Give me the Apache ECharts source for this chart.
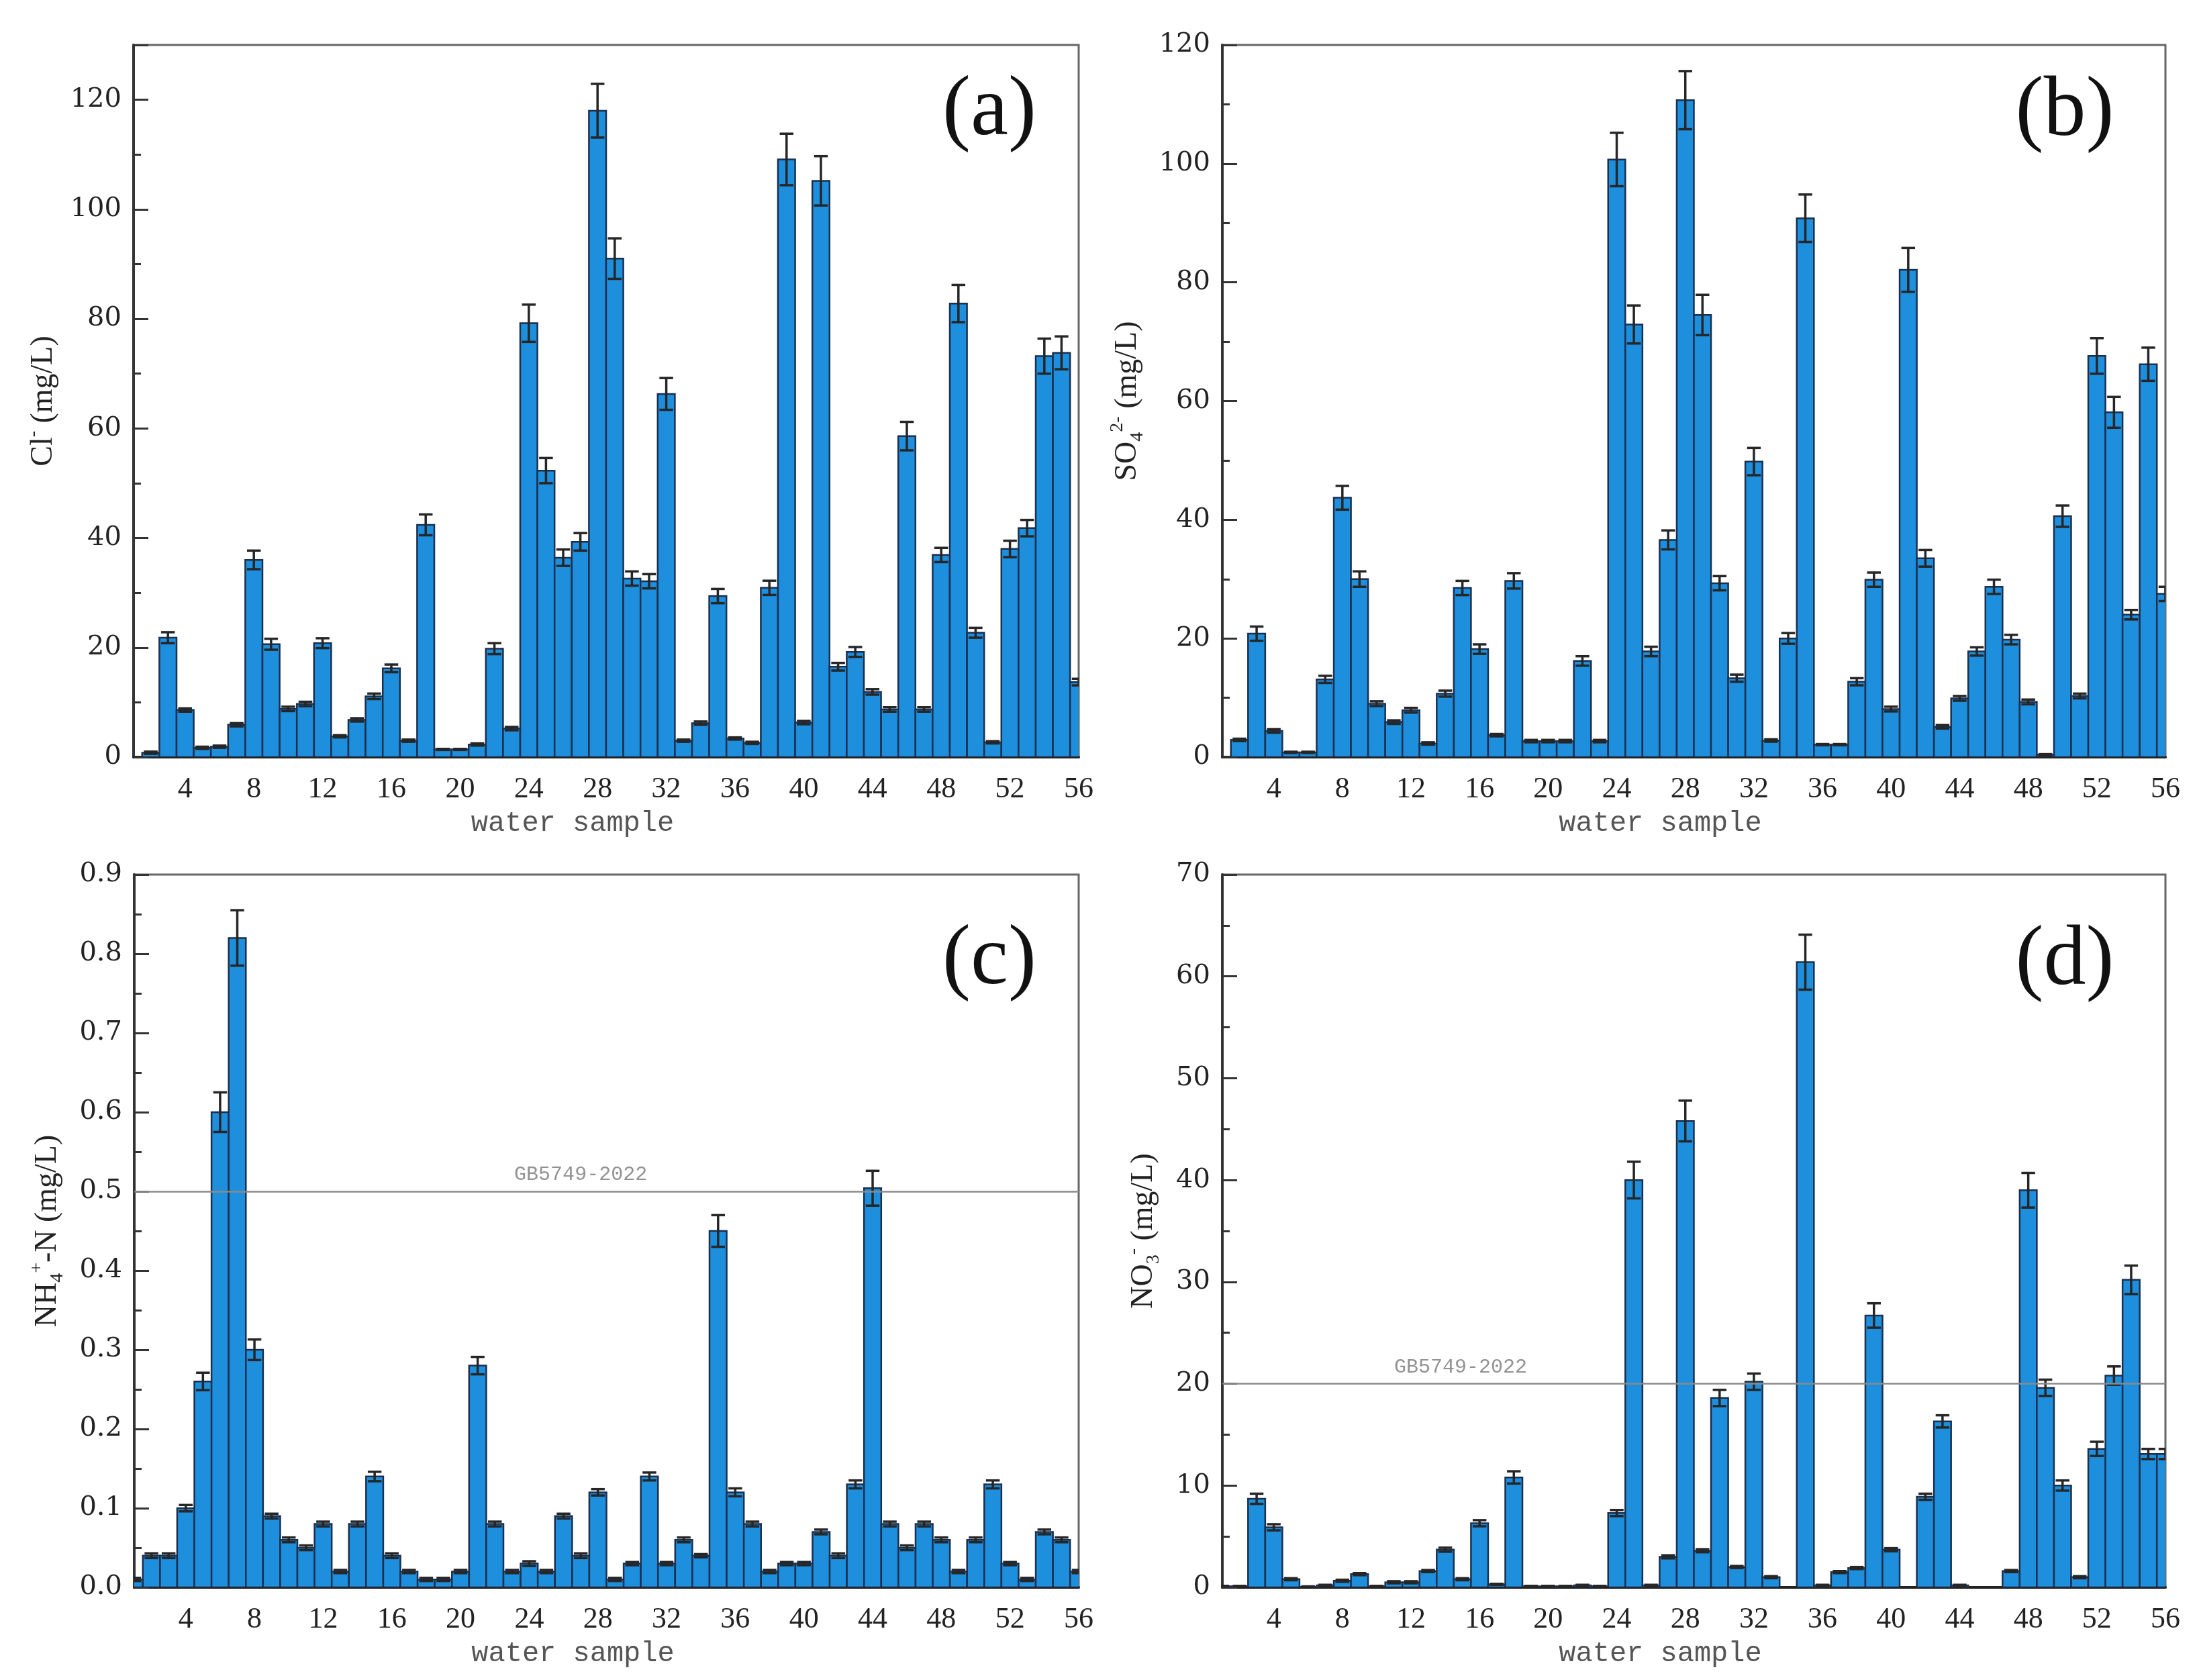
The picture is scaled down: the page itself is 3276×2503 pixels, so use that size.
<!DOCTYPE html>
<html>
<head>
<meta charset="utf-8">
<script src="https://cdn.jsdelivr.net/npm/echarts@6/dist/echarts.min.js"></script>
<style>
html, body { margin: 0; padding: 0; background: #fff; }
#main { width: 3276px; height: 2503px; }
</style>
</head>
<body>
<div id="main"></div>
<script>
// sample numbers 1..56
var samples = [];
for (var i = 1; i <= 56; i++) samples.push(i);

var xTicks = [4, 8, 12, 16, 20, 24, 28, 32, 36, 40, 44, 48, 52, 56];

// (a) Cl- mg/L
var clMean = [0, 0.8, 21.8, 8.6, 1.7, 1.9, 5.9, 36.0, 20.6, 8.8,
    9.7, 20.8, 3.8, 6.8, 11.1, 16.2, 3.0, 42.4, 1.4, 1.4,
    2.3, 19.8, 5.2, 79.2, 52.3, 36.4, 39.3, 118.0, 91.0, 32.6,
    32.1, 66.3, 3.0, 6.2, 29.4, 3.4, 2.6, 30.9, 109.1, 6.3,
    105.2, 16.5, 19.2, 11.9, 8.7, 58.6, 8.7, 36.9, 82.8, 22.7,
    2.7, 38.0, 41.8, 73.2, 73.8, 13.7];
var clErr = [0, 0.2, 1.0, 0.3, 0.2, 0.2, 0.3, 1.7, 1.0, 0.4,
    0.4, 0.9, 0.2, 0.3, 0.5, 0.7, 0.2, 1.9, 0.1, 0.1,
    0.2, 1.0, 0.3, 3.4, 2.3, 1.5, 1.6, 4.9, 3.7, 1.3,
    1.3, 2.9, 0.2, 0.3, 1.3, 0.2, 0.2, 1.3, 4.7, 0.3,
    4.5, 0.7, 0.9, 0.5, 0.4, 2.6, 0.4, 1.3, 3.4, 0.9,
    0.2, 1.5, 1.5, 3.2, 3.0, 0.6];

// (b) SO4 2- mg/L
var so4Mean = [0, 2.9, 20.8, 4.4, 0.8, 0.8, 13.1, 43.7, 30.0, 9.0,
    5.9, 7.9, 2.3, 10.7, 28.5, 18.2, 3.7, 29.7, 2.7, 2.7,
    2.7, 16.2, 2.7, 100.7, 72.9, 17.8, 36.6, 110.7, 74.5, 29.3,
    13.3, 49.8, 2.8, 20.0, 90.8, 2.1, 2.1, 12.7, 29.9, 8.1,
    82.1, 33.5, 5.1, 9.9, 17.8, 28.7, 19.8, 9.3, 0.4, 40.6,
    10.3, 67.6, 58.1, 24.0, 66.2, 27.5];
var so4Err = [0, 0.2, 1.2, 0.3, 0.1, 0.1, 0.6, 2.0, 1.3, 0.4,
    0.3, 0.4, 0.2, 0.5, 1.2, 0.8, 0.2, 1.3, 0.2, 0.2,
    0.2, 0.8, 0.2, 4.5, 3.2, 0.8, 1.6, 4.9, 3.4, 1.2,
    0.6, 2.3, 0.2, 0.9, 4.0, 0.1, 0.1, 0.6, 1.2, 0.4,
    3.7, 1.4, 0.3, 0.4, 0.7, 1.2, 0.8, 0.4, 0.1, 1.8,
    0.4, 3.0, 2.6, 0.8, 2.8, 1.2];

// (c) NH4+-N mg/L
var nh4Mean = [0.01, 0.04, 0.04, 0.10, 0.26, 0.60, 0.82, 0.30, 0.09, 0.06,
    0.05, 0.08, 0.02, 0.08, 0.14, 0.04, 0.02, 0.01, 0.01, 0.02,
    0.28, 0.08, 0.02, 0.03, 0.02, 0.09, 0.04, 0.12, 0.01, 0.03,
    0.14, 0.03, 0.06, 0.04, 0.45, 0.12, 0.08, 0.02, 0.03, 0.03,
    0.07, 0.04, 0.13, 0.504, 0.08, 0.05, 0.08, 0.06, 0.02, 0.06,
    0.13, 0.03, 0.01, 0.07, 0.06, 0.02];
var nh4Err = [0.002, 0.003, 0.003, 0.004, 0.011, 0.025, 0.035, 0.013, 0.003, 0.003,
    0.003, 0.003, 0.002, 0.003, 0.006, 0.003, 0.002, 0.002, 0.002, 0.002,
    0.011, 0.003, 0.002, 0.003, 0.002, 0.003, 0.003, 0.004, 0.002, 0.002,
    0.005, 0.002, 0.003, 0.002, 0.020, 0.005, 0.003, 0.002, 0.002, 0.002,
    0.003, 0.003, 0.005, 0.022, 0.003, 0.003, 0.003, 0.003, 0.002, 0.003,
    0.005, 0.002, 0.002, 0.003, 0.003, 0.002];

// (d) NO3- mg/L
var no3Mean = [0.1, 0.1, 8.7, 5.9, 0.8, 0.05, 0.2, 0.65, 1.3, 0.1,
    0.5, 0.5, 1.6, 3.7, 0.8, 6.3, 0.3, 10.8, 0.1, 0.1,
    0.1, 0.2, 0.1, 7.3, 40.0, 0.2, 3.0, 45.8, 3.6, 18.6,
    2.0, 20.2, 1.0, 0, 61.4, 0.2, 1.5, 1.9, 26.7, 3.7,
    0, 8.9, 16.3, 0.2, 0, 0, 1.6, 39.0, 19.6, 10.0,
    1.0, 13.6, 20.8, 30.2, 13.1, 13.1];
var no3Err = [0.05, 0.05, 0.5, 0.3, 0.1, 0.05, 0.05, 0.1, 0.1, 0.05,
    0.1, 0.1, 0.1, 0.2, 0.1, 0.3, 0.05, 0.6, 0.05, 0.05,
    0.05, 0.05, 0.05, 0.3, 1.8, 0.05, 0.15, 2.0, 0.15, 0.8,
    0.1, 0.8, 0.1, 0, 2.7, 0.05, 0.1, 0.1, 1.2, 0.15,
    0, 0.3, 0.6, 0.05, 0, 0, 0.1, 1.7, 0.8, 0.5,
    0.1, 0.7, 0.9, 1.4, 0.5, 0.5];

// GB5749-2022 limits for (c) and (d)
var nh4Limit = 0.5;
var no3Limit = 20;

var barFill = '#1d8fdd';
var barEdge = '#1b2f4f';
var errColor = '#262626';

function rows(mean, err) {
    return samples.map(function (s, k) { return [s, mean[k], err[k]]; });
}

function renderBar(params, api) {
    var x = api.value(0), v = api.value(1), e = api.value(2);
    var p0 = api.coord([x - 0.5, v]);
    var p1 = api.coord([x + 0.5, 0]);
    var kids = [];
    if (v > 0) {
        kids.push({
            type: 'rect',
            shape: { x: p0[0], y: p0[1], width: p1[0] - p0[0], height: p1[1] - p0[1] },
            style: { fill: barFill, stroke: barEdge, lineWidth: 2.5 }
        });
    }
    if (e > 0 && v > 0) {
        var top = api.coord([x, v + e]);
        var bot = api.coord([x, Math.max(v - e, 0)]);
        var half = (p1[0] - p0[0]) * 0.4;
        var ls = { stroke: errColor, lineWidth: 3.5 };
        kids.push({ type: 'line', shape: { x1: top[0], y1: top[1], x2: bot[0], y2: bot[1] }, style: ls });
        kids.push({ type: 'line', shape: { x1: top[0] - half, y1: top[1], x2: top[0] + half, y2: top[1] }, style: ls });
        kids.push({ type: 'line', shape: { x1: bot[0] - half, y1: bot[1], x2: bot[0] + half, y2: bot[1] }, style: ls });
    }
    return { type: 'group', children: kids };
}

var grids = [
    { left: 199, top: 67, width: 1408, height: 1061, show: true, borderColor: '#666', borderWidth: 3 },
    { left: 1821, top: 67, width: 1405, height: 1061, show: true, borderColor: '#666', borderWidth: 3 },
    { left: 200, top: 1303, width: 1407, height: 1062, show: true, borderColor: '#666', borderWidth: 3 },
    { left: 1821, top: 1303, width: 1405, height: 1062, show: true, borderColor: '#666', borderWidth: 3 }
];

function makeX(idx) {
    return {
        gridIndex: idx,
        type: 'value',
        min: 1,
        max: 56,
        splitLine: { show: false },
        axisTick: { show: false },
        axisLine: { onZero: false, lineStyle: { color: '#222', width: 4 } },
        axisLabel: {
            customValues: xTicks,
            margin: 26,
            fontFamily: 'Liberation Serif',
            fontSize: 44,
            color: '#222'
        },
        name: 'water sample',
        nameLocation: 'middle',
        nameGap: 78,
        nameTextStyle: {
            fontFamily: 'Liberation Mono',
            fontSize: 42,
            color: '#555',
            padding: [0, 100, 0, 0]
        }
    };
}

var nameRich = {
    m: { fontFamily: 'Liberation Serif', fontSize: 46, lineHeight: 58, color: '#222' },
    sp: { fontFamily: 'Liberation Serif', fontSize: 28, lineHeight: 30, verticalAlign: 'top', color: '#222' },
    sb: { fontFamily: 'Liberation Serif', fontSize: 28, lineHeight: 30, verticalAlign: 'bottom', color: '#222' }
};

function makeY(idx, max, step, showMax, name, gap, fmt) {
    return {
        gridIndex: idx,
        type: 'value',
        min: 0,
        max: max,
        interval: step,
        splitLine: { show: false },
        axisLine: { show: true, lineStyle: { color: '#333', width: 4 } },
        axisTick: { show: true, inside: true, length: 22, lineStyle: { color: '#333', width: 3 } },
        minorTick: { show: true, splitNumber: 2, length: 11, lineStyle: { color: '#333', width: 3 } },
        axisLabel: {
            margin: 18,
            fontFamily: 'DejaVu Serif',
            fontSize: 40,
            color: '#222',
            showMaxLabel: showMax,
            formatter: fmt
        },
        name: name,
        nameLocation: 'middle',
        nameRotate: 90,
        nameGap: gap,
        nameTextStyle: { rich: nameRich }
    };
}

function intFmt(v) { return String(Math.round(v)); }
function oneDec(v) { return v.toFixed(1); }

function barSeries(idx, mean, err) {
    return {
        type: 'custom',
        xAxisIndex: idx,
        yAxisIndex: idx,
        clip: true,
        renderItem: renderBar,
        encode: { x: 0, y: 1 },
        data: rows(mean, err),
        z: 2
    };
}

function limitSeries(idx, limit, labelX) {
    return {
        type: 'scatter',
        xAxisIndex: idx,
        yAxisIndex: idx,
        symbolSize: 0,
        silent: true,
        z: 3,
        data: [[labelX, limit]],
        label: {
            show: true,
            position: 'top',
            distance: 10,
            formatter: 'GB5749-2022',
            fontFamily: 'Liberation Mono',
            fontSize: 30,
            color: '#777'
        },
        markLine: {
            silent: true,
            symbol: 'none',
            label: { show: false },
            lineStyle: { color: '#8a8a8a', width: 2.5, type: 'solid' },
            data: [{ yAxis: limit }]
        }
    };
}

var chart = echarts.init(document.getElementById('main'), null, { renderer: 'canvas' });

chart.setOption({
    backgroundColor: '#fff',
    animation: false,
    grid: grids,
    xAxis: [makeX(0), makeX(1), makeX(2), makeX(3)],
    yAxis: [
        makeY(0, 130, 20, false, '{m|Cl}{sp|-}{m| (mg/L)}', 105, intFmt),
        makeY(1, 120, 20, true, '{m|SO}{sb|4}{sp|2-}{m| (mg/L)}', 112, intFmt),
        makeY(2, 0.9, 0.1, true, '{m|NH}{sb|4}{sp|+}{m|-N (mg/L)}', 100, oneDec),
        makeY(3, 70, 10, true, '{m|NO}{sb|3}{sp|-}{m| (mg/L)}', 88, intFmt)
    ],
    series: [
        barSeries(0, clMean, clErr),
        barSeries(1, so4Mean, so4Err),
        barSeries(2, nh4Mean, nh4Err),
        barSeries(3, no3Mean, no3Err),
        limitSeries(2, nh4Limit, 27),
        limitSeries(3, no3Limit, 14.9)
    ],
    graphic: [
        { type: 'text', x: 1474, y: 167, style: { text: '(a)', font: '126px "Liberation Serif"', fill: '#111', align: 'center', verticalAlign: 'middle' } },
        { type: 'text', x: 3076, y: 168, style: { text: '(b)', font: '126px "Liberation Serif"', fill: '#111', align: 'center', verticalAlign: 'middle' } },
        { type: 'text', x: 1474, y: 1432, style: { text: '(c)', font: '126px "Liberation Serif"', fill: '#111', align: 'center', verticalAlign: 'middle' } },
        { type: 'text', x: 3076, y: 1433, style: { text: '(d)', font: '126px "Liberation Serif"', fill: '#111', align: 'center', verticalAlign: 'middle' } }
    ]
});
</script>
</body>
</html>
